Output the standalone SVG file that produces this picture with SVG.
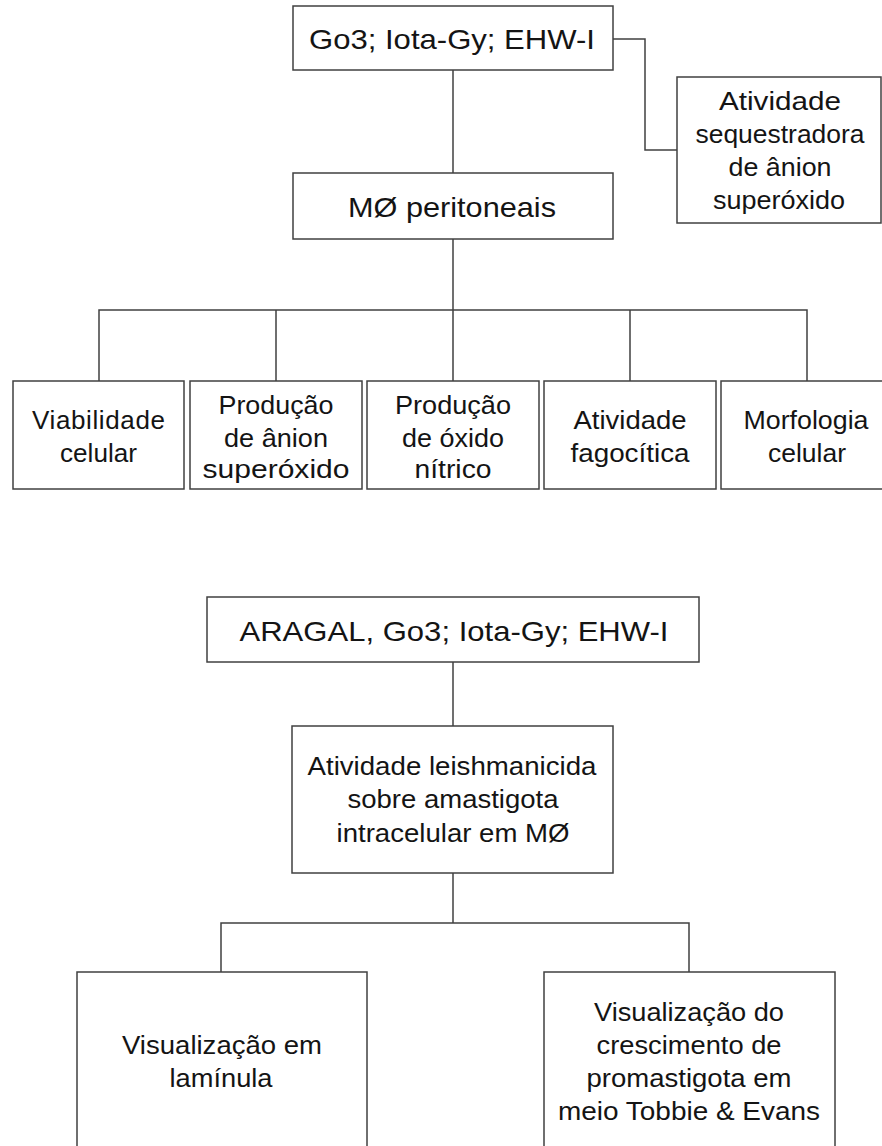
<svg xmlns="http://www.w3.org/2000/svg" width="882" height="1146" viewBox="0 0 882 1146">
<style>
.box{fill:#fff;stroke:#404040;stroke-width:1.5}
.ln{fill:none;stroke:#404040;stroke-width:1.5}
text{font-family:"Liberation Sans",Arial,sans-serif;fill:#141414;text-anchor:middle}
.big{font-size:28px}
.t{font-size:26px}
</style>
<rect width="882" height="1146" fill="#fff"/>
<g id="connectors">
<path class="ln" d="M453 70V173"/>
<path class="ln" d="M613 39H645V150H677"/>
<path class="ln" d="M453 239V310"/>
<path class="ln" d="M99 381V310H807V381"/>
<path class="ln" d="M276 310V381M453 310V381M630 310V381"/>
<path class="ln" d="M453 662V726"/>
<path class="ln" d="M453 873V923"/>
<path class="ln" d="M221 972V923H689V972"/>
</g>
<g id="n-go3">
<rect class="box" x="293" y="6" width="320" height="64"/>
<text class="big" x="452" y="49" textLength="286" lengthAdjust="spacingAndGlyphs">Go3; Iota-Gy; EHW-I</text>
</g>
<g id="n-seq">
<rect class="box" x="677" y="77" width="204" height="146"/>
<text class="t" x="780" y="110" textLength="122" lengthAdjust="spacingAndGlyphs">Atividade</text>
<text class="t" x="780" y="143" textLength="169" lengthAdjust="spacingAndGlyphs">sequestradora</text>
<text class="t" x="780" y="176" textLength="103" lengthAdjust="spacingAndGlyphs">de ânion</text>
<text class="t" x="779" y="209" textLength="132" lengthAdjust="spacingAndGlyphs">superóxido</text>
</g>
<g id="n-mo">
<rect class="box" x="293" y="173" width="320" height="66"/>
<text class="big" x="452" y="217" textLength="208" lengthAdjust="spacingAndGlyphs">MØ peritoneais</text>
</g>
<g id="n-viab">
<rect class="box" x="13" y="381" width="171" height="108"/>
<text class="t" x="98.5" y="429" textLength="133" lengthAdjust="spacing">Viabilidade</text>
<text class="t" x="98.5" y="462" textLength="77" lengthAdjust="spacingAndGlyphs">celular</text>
</g>
<g id="n-sup">
<rect class="box" x="190" y="381" width="172" height="108"/>
<text class="t" x="276" y="414" textLength="115" lengthAdjust="spacingAndGlyphs">Produção</text>
<text class="t" x="276" y="447" textLength="104" lengthAdjust="spacingAndGlyphs">de ânion</text>
<text class="t" x="276" y="478" textLength="147" lengthAdjust="spacingAndGlyphs">superóxido</text>
</g>
<g id="n-no">
<rect class="box" x="367" y="381" width="172" height="108"/>
<text class="t" x="453" y="414" textLength="116" lengthAdjust="spacingAndGlyphs">Produção</text>
<text class="t" x="453" y="447" textLength="102" lengthAdjust="spacingAndGlyphs">de óxido</text>
<text class="t" x="453" y="478" textLength="77" lengthAdjust="spacingAndGlyphs">nítrico</text>
</g>
<g id="n-fago">
<rect class="box" x="544" y="381" width="172" height="108"/>
<text class="t" x="630" y="429" textLength="113" lengthAdjust="spacingAndGlyphs">Atividade</text>
<text class="t" x="630" y="462" textLength="119" lengthAdjust="spacingAndGlyphs">fagocítica</text>
</g>
<g id="n-morf">
<rect class="box" x="721" y="381" width="172" height="108"/>
<text class="t" x="806" y="429" textLength="125" lengthAdjust="spacingAndGlyphs">Morfologia</text>
<text class="t" x="807" y="462" textLength="78" lengthAdjust="spacingAndGlyphs">celular</text>
</g>
<g id="n-aragal">
<rect class="box" x="207" y="597" width="492" height="65"/>
<text class="big" x="454" y="641" textLength="429" lengthAdjust="spacingAndGlyphs">ARAGAL, Go3; Iota-Gy; EHW-I</text>
</g>
<g id="n-leish">
<rect class="box" x="292" y="726" width="321" height="147"/>
<text class="t" x="452" y="775" textLength="289" lengthAdjust="spacingAndGlyphs">Atividade leishmanicida</text>
<text class="t" x="453" y="808" textLength="211" lengthAdjust="spacingAndGlyphs">sobre amastigota</text>
<text class="t" x="453" y="842" textLength="233" lengthAdjust="spacingAndGlyphs">intracelular em MØ</text>
</g>
<g id="n-lam">
<rect class="box" x="77" y="972" width="290" height="190"/>
<text class="t" x="222" y="1054" textLength="200" lengthAdjust="spacingAndGlyphs">Visualização em</text>
<text class="t" x="221" y="1087" textLength="103" lengthAdjust="spacingAndGlyphs">lamínula</text>
</g>
<g id="n-promast">
<rect class="box" x="544" y="972" width="291" height="190"/>
<text class="t" x="689" y="1021" textLength="190" lengthAdjust="spacingAndGlyphs">Visualização do</text>
<text class="t" x="689" y="1054" textLength="185" lengthAdjust="spacingAndGlyphs">crescimento de</text>
<text class="t" x="689" y="1087" textLength="205" lengthAdjust="spacingAndGlyphs">promastigota em</text>
<text class="t" x="689" y="1120" textLength="262" lengthAdjust="spacingAndGlyphs">meio Tobbie &amp; Evans</text>
</g>
</svg>
